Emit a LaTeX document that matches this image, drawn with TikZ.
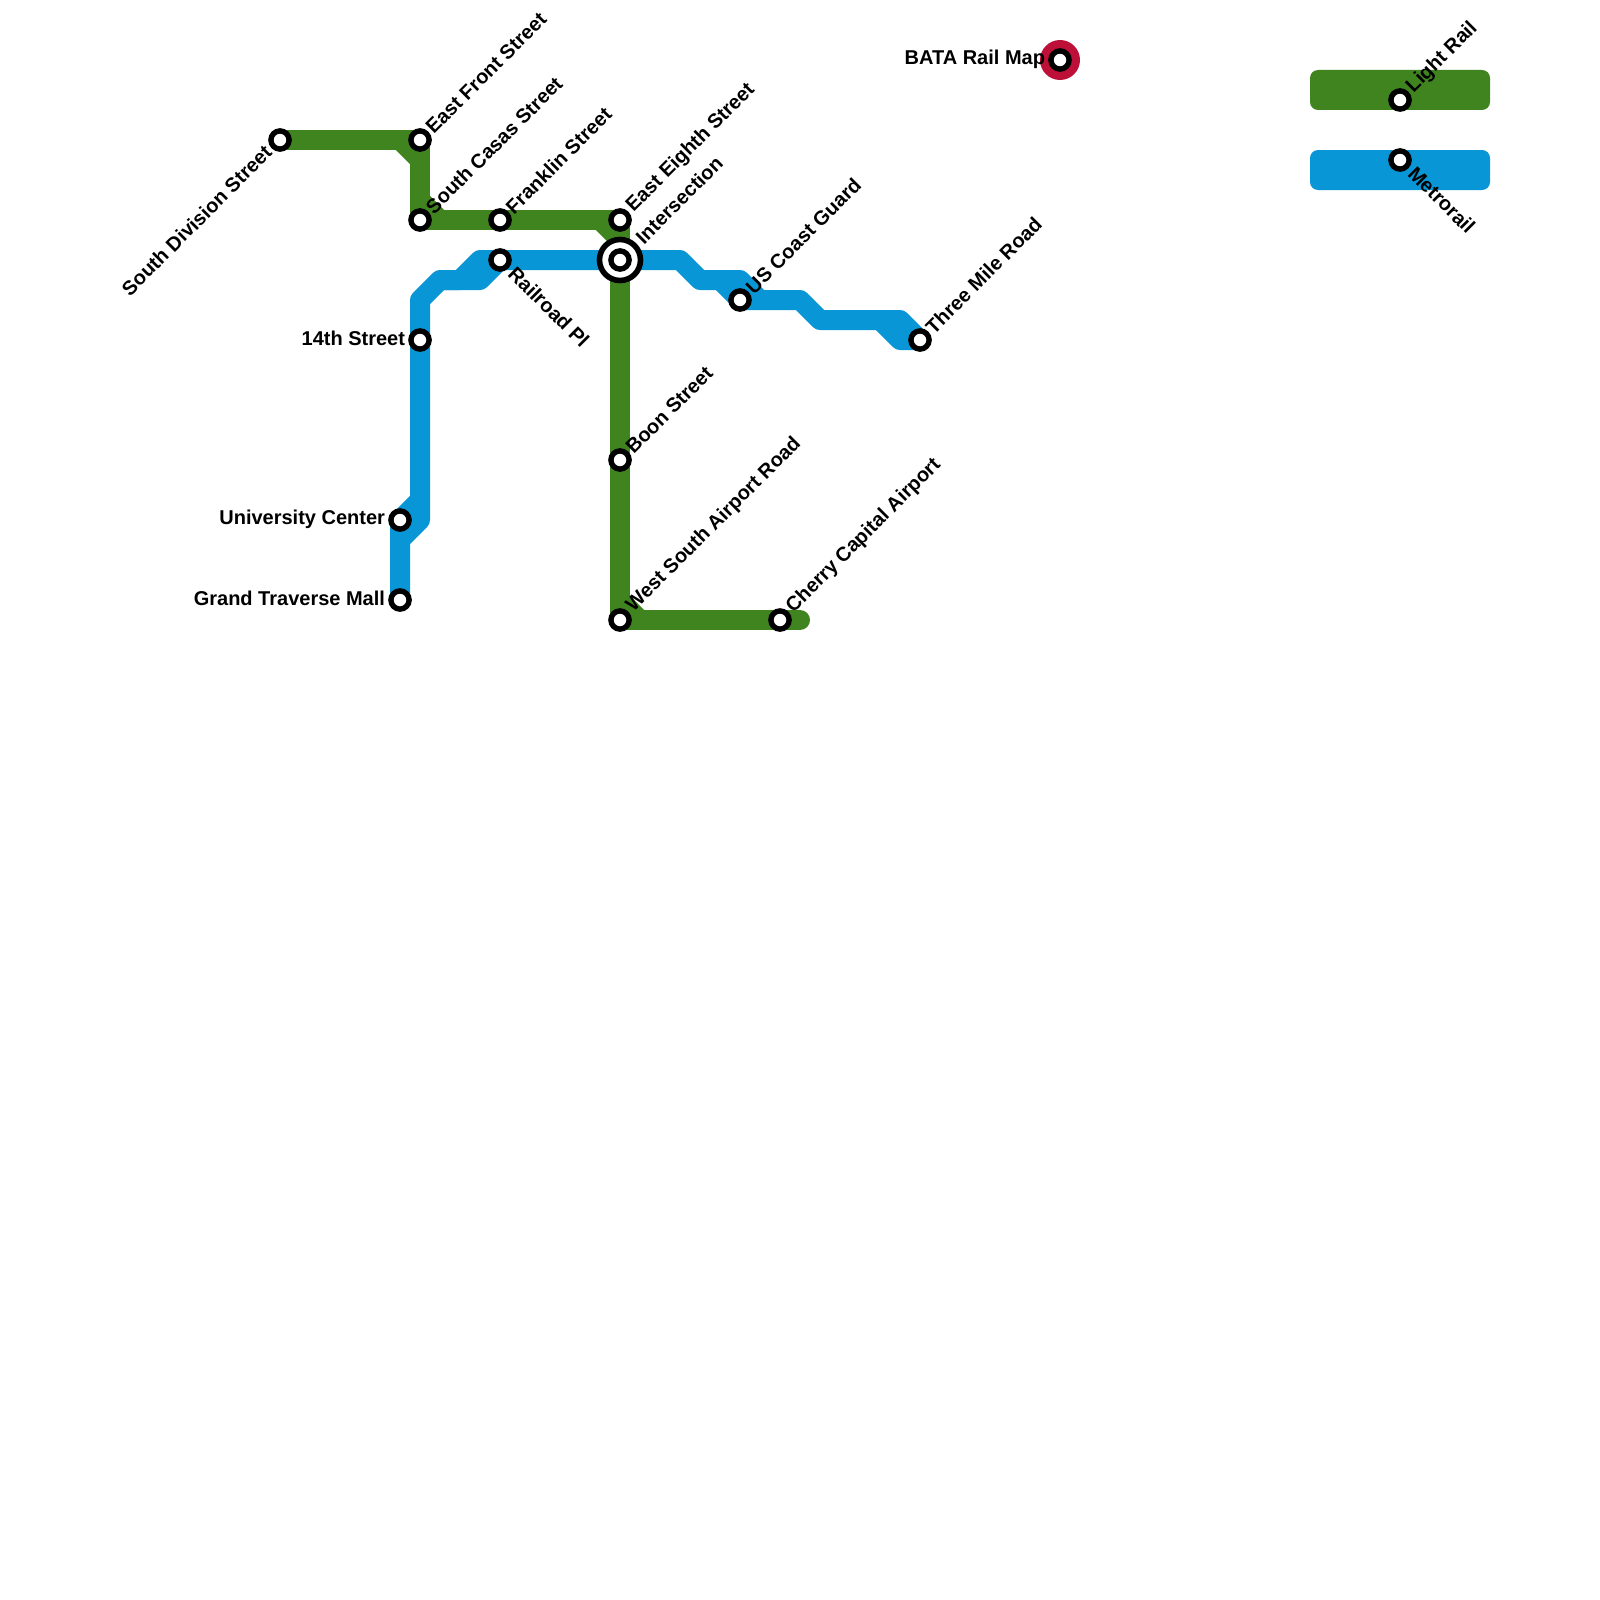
\documentclass[tikz,border=0pt]{standalone}
\usepackage{fontspec}
\setmainfont{Liberation Sans}
\pgfdeclarelayer{bg}
\pgfsetlayers{bg,main}
\definecolor{railgreen}{HTML}{3F841F}
\definecolor{railblue}{HTML}{0896D7}
\definecolor{railred}{HTML}{BD1038}
\tikzset{
  stn/.style={circle,draw=black,fill=white,line width=5.4pt,minimum size=18.2pt,inner sep=0pt,outer sep=0pt},
  hub/.style={circle,draw=black,fill=white,line width=5.6pt,minimum size=41pt,inner sep=0pt,outer sep=0pt},
  lbl/.style={font=\bfseries\fontsize{20}{24}\selectfont,text=black,inner sep=0pt,outer sep=0pt},
  ne/.style={lbl,rotate=45,anchor=west},
  se/.style={lbl,rotate=-45,anchor=west},
  sw/.style={lbl,rotate=45,anchor=east},
  wl/.style={lbl,anchor=east},
  gline/.style={draw=railgreen,line width=20pt,line join=round},
  bline/.style={draw=railblue,line width=20pt,line join=round},
  legendbox/.style={rounded corners=8pt},
}
\begin{document}
\begin{tikzpicture}[x=1pt,y=-1pt]
\useasboundingbox (0,0) rectangle (1600,1600);
% stations
\node[stn] (sd) at (280,140) {};
\node[stn] (ef) at (420,140) {};
\node[stn] (sc) at (420,220) {};
\node[stn] (fr) at (500,220) {};
\node[stn] (ee) at (620,220) {};
\node[hub] (hb) at (620,260) {};
\node[stn] (it) at (620,260) {};
\node[stn] (rr) at (500,260) {};
\node[stn] (ft) at (420,340) {};
\node[stn] (uc) at (400,520) {};
\node[stn] (gt) at (400,600) {};
\node[stn] (bo) at (620,460) {};
\node[stn] (ws) at (620,620) {};
\node[stn] (ch) at (780,620) {};
\node[stn] (us) at (740,300) {};
\node[stn] (tm) at (920,340) {};
\node[stn] (ba) at (1060,60) {};
\node[stn] (lr) at (1400,100) {};
\node[stn] (mr) at (1400,160) {};
% labels
\node[sw] (lsd) at (268,149) {South Division Street};
\node[ne] (lef) at (429,130) {East Front Street};
\node[ne] (lsc) at (429,210) {South Casas Street};
\node[ne] (lfr) at (509,210) {Franklin Street};
\node[ne] (lee) at (630,209) {East Eighth Street};
\node[ne] (lit) at (639,240) {Intersection};
\node[se] (lrr) at (512,270) {Railroad Pl};
\node[wl] (lft) at (405,338) {14th Street};
\node[wl] (luc) at (385,519) {University Center};
\node[wl] (lgt) at (385,598) {Grand Traverse Mall};
\node[ne] (lbo) at (629,450) {Boon Street};
\node[ne] (lws) at (630,609) {West South Airport Road};
\node[ne] (lch) at (790,610) {Cherry Capital Airport};
\node[ne] (lus) at (749,290) {US Coast Guard};
\node[ne] (ltm) at (929,330) {Three Mile Road};
\node[wl] (lba) at (1045,59) {BATA Rail Map};
\node[ne] (llr) at (1410,90) {Light Rail};
\node[se] (lmr) at (1412,170) {Metrorail};
\begin{pgfonlayer}{bg}
\fill[white] (0,0) rectangle (1600,1600);
% waypoints
\coordinate (g1) at (400,140); \coordinate (g2) at (420,160);
\coordinate (g3) at (420,200); \coordinate (g4) at (440,220);
\coordinate (g5) at (600,220); \coordinate (g6) at (620,240);
\coordinate (g7) at (620,600); \coordinate (g8) at (640,620);
\coordinate (g9) at (800,620);
\coordinate (b1) at (680,260); \coordinate (b2) at (700,280);
\coordinate (b3) at (740,280); \coordinate (b4) at (760,300);
\coordinate (b5) at (800,300); \coordinate (b6) at (820,320);
\coordinate (b7) at (900,320); \coordinate (b8) at (720,280);
\coordinate (b9) at (880,320); \coordinate (b10) at (900,340);
\coordinate (c1) at (480,280); \coordinate (c2) at (440,280);
\coordinate (c3) at (420,300); \coordinate (c4) at (480,260);
\coordinate (c5) at (460,280);
\coordinate (d1) at (420,520); \coordinate (d2) at (400,540);
\coordinate (d3) at (420,500);
% legend
\fill[railgreen,legendbox] (1310,70) rectangle (1490,110);
\fill[railblue,legendbox] (1310,150) rectangle (1490,190);
% red station
\fill[railred] (ba) circle (20);
% green line
\draw[gline] (sd.center) -- (ef.center) -- (sc.center) -- (ee.center) -- (ws.center) -- (ch.center);
\draw[gline,line cap=round] (ch.center) -- (g9);
\draw[gline] (g1) -- (g2);
\draw[gline] (g3) -- (g4);
\draw[gline] (g5) -- (g6);
\draw[gline] (g7) -- (g8);
% blue line
\draw[bline] (rr.center) -- (it.center) -- (b1) -- (b2) -- (b3) -- (b4) -- (b5) -- (b6) -- (b7) -- (tm.center);
\draw[bline] (b8) -- (us.center) -- (b4);
\draw[bline] (b9) -- (b10) -- (tm.center);
\draw[bline] (rr.center) -- (c1) -- (c2) -- (c3) -- (ft.center) -- (d1) -- (d2) -- (gt.center);
\draw[bline] (rr.center) -- (c4) -- (c5) -- (c2);
\draw[bline] (d3) -- (uc.center) -- (d2);
\end{pgfonlayer}
\end{tikzpicture}
\end{document}
